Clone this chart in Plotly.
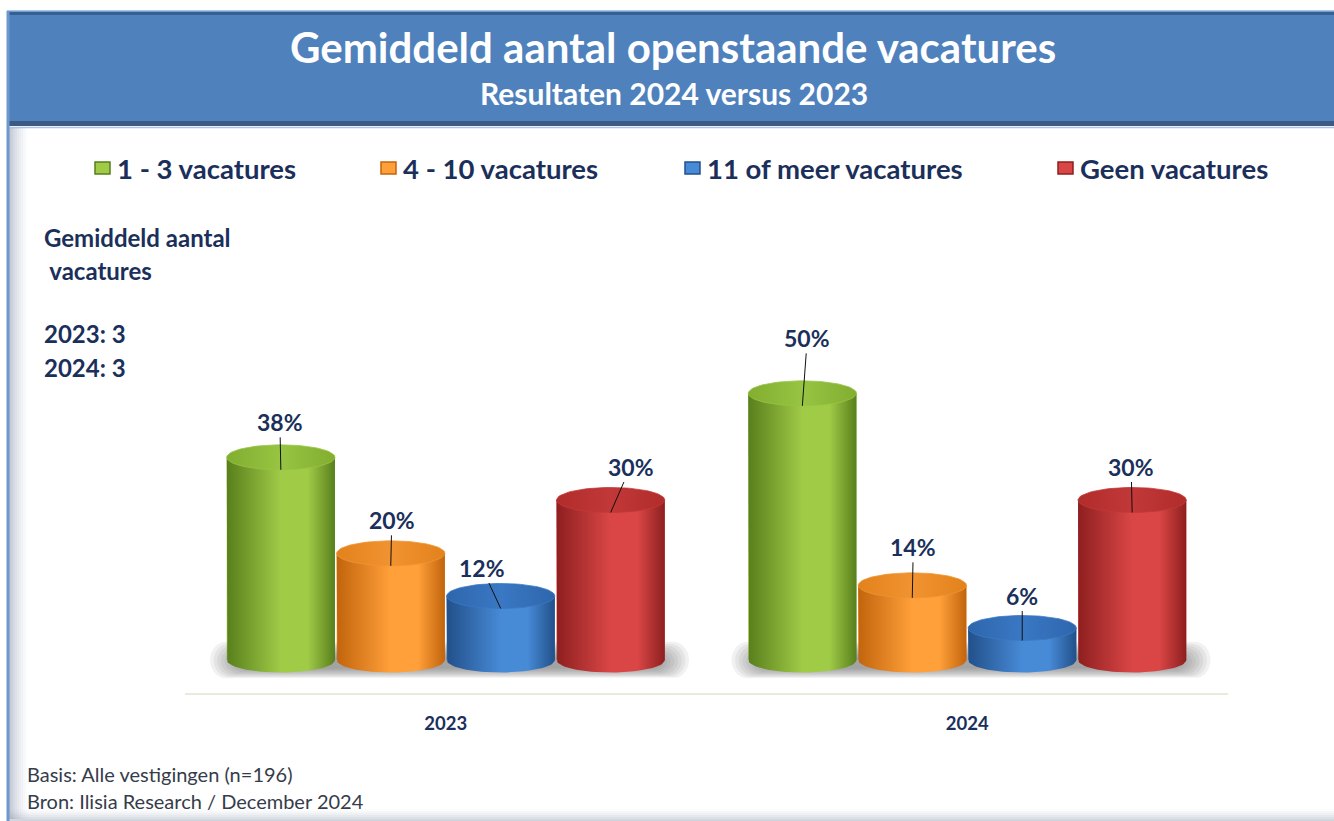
import numpy as np
import plotly.graph_objects as go

# ---------------- data ----------------
years = ["2023", "2024"]
series_names = ["1 - 3 vacatures", "4 - 10 vacatures", "11 of meer vacatures", "Geen vacatures"]
vals_1_3 = [38, 50]
vals_4_10 = [20, 14]
vals_11_plus = [12, 6]
vals_geen = [30, 30]
series_values = [vals_1_3, vals_4_10, vals_11_plus, vals_geen]
avg_label = "Gemiddeld aantal"
avg_label2 = " vacatures"
avg_years = ["2023", "2024"]
avg_values = [3, 3]
title = "Gemiddeld aantal openstaande vacatures"
subtitle = "Resultaten 2024 versus 2023"
footnotes = ["Basis: Alle vestigingen (n=196)", "Bron: Ilisia Research / December 2024"]

# ---------------- styles ----------------
FONT = "Lato"
NAVY = "#1B2F5B"
body_edge = ["#587F1C", "#C2640C", "#22508A", "#8E1F1F"]
body_mid = ["#9FCB47", "#FFA03A", "#478AD6", "#DA4646"]
top_edge = ["#82AE31", "#E2821C", "#2E66AC", "#B12C2C"]
top_mid = ["#98C443", "#F19331", "#3A78C4", "#C23838"]
legend_x = [95, 381, 685, 1058]      # pixel x of legend squares
legend_tx = [118, 404, 708, 1081]    # pixel x of legend texts
# label offsets (px) from the leader-line end point to the label centre
label_dx = [[-1, 5], [1, 1], [-19, 0], [20, -1]]
label_dy = [[-48, -68], [-46, -51], [-41, -45], [-46, -46]]

W, H = 1334, 821
L, R, T, B = 185, 1228, 140, 693
PX_PER_UNIT = 16 / 3
y0 = -(B - 660) / PX_PER_UNIT
y1 = y0 + (B - T) / PX_PER_UNIT

slot = 0.2108
bw = 0.2075
hw = bw / 2
ry = 12.5 / PX_PER_UNIT


def pxx(x):
    return (x - L) / (R - L)


def pxy(y):
    return (B - y) / (B - T)


fig = go.Figure()

# real bars
for i, name in enumerate(series_names):
    xs = [g + (i - 1.5) * slot for g in range(len(years))]
    fig.add_trace(go.Bar(
        x=xs, y=series_values[i], width=bw, name=name,
        marker=dict(color=body_mid[i], line=dict(width=0)),
        showlegend=False, hovertemplate=name + ": %{y}%<extra></extra>",
    ))

# soft floor shadows (stacked translucent rounded layers)
t_ell = np.linspace(0, 2 * np.pi, 60)
for g in range(len(years)):
    xa0 = g + (210 - 445.75) / 521.5
    xb0 = g + (689 - 445.75) / 521.5
    for k in range(9):
        xa = xa0 + k * 0.007
        xb = xb0 - k * 0.007
        top = 3.4 - k * 0.35
        bot = -3.4 + k * 0.22
        rx = 0.03
        rr = (top - bot) / 2
        cx1, cx2, cy = xa + rx, xb - rx, (top + bot) / 2
        xs_, ys_ = [], []
        for tt in np.linspace(np.pi / 2, 3 * np.pi / 2, 15):
            xs_.append(cx1 + rx * np.cos(tt)); ys_.append(cy + rr * np.sin(tt))
        for tt in np.linspace(-np.pi / 2, np.pi / 2, 15):
            xs_.append(cx2 + rx * np.cos(tt)); ys_.append(cy + rr * np.sin(tt))
        xs_.append(xs_[0]); ys_.append(ys_[0])
        fig.add_trace(go.Scatter(
            x=xs_, y=ys_, mode="lines", line=dict(width=0), fill="toself",
            fillcolor="rgba(95,95,95,0.085)", hoverinfo="skip", showlegend=False,
        ))

# cylinders (body + top cap)
t_half = np.linspace(0, np.pi, 40)
t_full = np.linspace(0, 2 * np.pi, 80)
for i in range(len(series_names)):
    for g in range(len(years)):
        v = series_values[i][g]
        c = g + (i - 1.5) * slot
        bx = [c - hw, c - hw] + list(c - hw * np.cos(t_half)) + [c + hw, c - hw]
        by = [v, 0] + list(-ry * np.sin(t_half)) + [v, v]
        fig.add_trace(go.Scatter(
            x=bx, y=by, mode="lines", line=dict(width=0), fill="toself",
            fillgradient=dict(type="horizontal",
                              colorscale=[[0, body_edge[i]], [0.5, body_mid[i]],
                                          [0.75, body_mid[i]], [1, body_edge[i]]]),
            hoverinfo="skip", showlegend=False,
        ))
        tx = list(c + hw * np.cos(t_full))
        ty = list(v + ry * np.sin(t_full))
        fig.add_trace(go.Scatter(
            x=tx, y=ty, mode="lines", line=dict(width=0.8, color=top_mid[i]), fill="toself",
            fillgradient=dict(type="horizontal",
                              colorscale=[[0, top_edge[i]], [0.5, top_mid[i]], [1, top_edge[i]]]),
            hoverinfo="skip", showlegend=False,
        ))

annotations = []
# data labels with leader lines
for i in range(len(series_names)):
    for g in range(len(years)):
        v = series_values[i][g]
        c = g + (i - 1.5) * slot
        annotations.append(dict(
            x=c, y=v - ry, xref="x", yref="y", text=f"<b>{v}%</b>",
            showarrow=True, arrowhead=0, arrowwidth=1, arrowcolor="#111111",
            ax=label_dx[i][g], ay=label_dy[i][g], standoff=0,
            font=dict(family=FONT, size=23, color=NAVY),
        ))

# title
annotations.append(dict(x=pxx(673), y=pxy(47), xref="paper", yref="paper", text=f"<b>{title}</b>",
                        showarrow=False, font=dict(family=FONT, size=42, color="white"),
                        xanchor="center", yanchor="middle"))
annotations.append(dict(x=pxx(674), y=pxy(93), xref="paper", yref="paper", text=f"<b>{subtitle}</b>",
                        showarrow=False, font=dict(family=FONT, size=30, color="white"),
                        xanchor="center", yanchor="middle"))

# legend
shapes = []
for i, name in enumerate(series_names):
    x0 = legend_x[i]
    shapes.append(dict(type="rect", xref="paper", yref="paper",
                       x0=pxx(x0), x1=pxx(x0 + 15), y0=pxy(174), y1=pxy(162),
                       fillcolor=body_mid[i], line=dict(color=body_edge[i], width=1.5)))
    annotations.append(dict(x=pxx(legend_tx[i] - 3), y=pxy(168), xref="paper", yref="paper",
                            text=f"<b>{name}</b>",
                            showarrow=False, font=dict(family=FONT, size=27.5, color=NAVY),
                            xanchor="left", yanchor="middle"))

# left info block
left_lines = [(avg_label, 238), (avg_label2, 270),
              (f"{avg_years[0]}: {avg_values[0]}", 333), (f"{avg_years[1]}: {avg_values[1]}", 367)]
for txt, yy in left_lines:
    annotations.append(dict(x=pxx(42), y=pxy(yy), xref="paper", yref="paper", text=f"<b>{txt}</b>",
                            showarrow=False, font=dict(family=FONT, size=24, color=NAVY),
                            xanchor="left", yanchor="middle"))

# footnotes
for txt, yy in zip(footnotes, [774, 801]):
    annotations.append(dict(x=pxx(25), y=pxy(yy), xref="paper", yref="paper", text=txt,
                            showarrow=False, font=dict(family=FONT, size=20, color="#363C4A"),
                            xanchor="left", yanchor="middle"))

# frame / header
shapes = [
    dict(type="rect", xref="paper", yref="paper", x0=pxx(7), x1=pxx(1340), y0=pxy(126), y1=pxy(11),
         fillcolor="#4F81BD", line=dict(width=0), layer="below"),
    dict(type="rect", xref="paper", yref="paper", x0=pxx(7), x1=pxx(1340), y0=pxy(15), y1=pxy(11),
         fillcolor="#365F96", line=dict(width=0), layer="below"),
    dict(type="rect", xref="paper", yref="paper", x0=pxx(7), x1=pxx(1340), y0=pxy(126), y1=pxy(121),
         fillcolor="#3C5A84", line=dict(width=0), layer="below"),
    dict(type="line", xref="paper", yref="paper", x0=pxx(7), x1=pxx(1340), y0=pxy(11), y1=pxy(11),
         line=dict(color="#8DB3E2", width=1.5), layer="below"),
    dict(type="line", xref="paper", yref="paper", x0=pxx(7), x1=pxx(1340), y0=pxy(127.5), y1=pxy(127.5),
         line=dict(color="#A9C4E8", width=1.5), layer="below"),
] + shapes
for k in range(10):
    a = 0.45 * (1 - k / 10) ** 1.6
    shapes.append(dict(type="rect", xref="paper", yref="paper", x0=pxx(9 + 2 * k), x1=pxx(11 + 2 * k),
                       y0=pxy(819), y1=pxy(128), fillcolor=f"rgba(120,135,160,{a:.3f})",
                       line=dict(width=0), layer="below"))
for k in range(6):
    a = 0.35 * (1 - k / 6) ** 1.5
    shapes.append(dict(type="rect", xref="paper", yref="paper", x0=pxx(9), x1=pxx(1340),
                       y0=pxy(821 - 2 * k), y1=pxy(819 - 2 * k), fillcolor=f"rgba(120,135,160,{a:.3f})",
                       line=dict(width=0), layer="below"))
shapes.append(dict(type="line", xref="paper", yref="paper", x0=pxx(8), x1=pxx(8), y0=pxy(821), y1=pxy(11),
                   line=dict(color="#6E97CC", width=3), layer="below"))

fig.update_layout(
    width=W, height=H,
    margin=dict(l=L, r=W - R, t=T, b=H - B, pad=0),
    paper_bgcolor="white", plot_bgcolor="rgba(0,0,0,0)",
    barmode="overlay",
    showlegend=False,
    xaxis=dict(range=[-0.5, 1.5], tickvals=list(range(len(years))), ticktext=[f"<b>{y}</b>" for y in years],
               tickfont=dict(family=FONT, size=18.5, color=NAVY), showgrid=False, zeroline=False,
               showline=True, linecolor="#EAEADC", linewidth=1.5, ticks="", ticklabelstandoff=13,
               fixedrange=True),
    yaxis=dict(range=[y0, y1], visible=False, showgrid=False, zeroline=False, fixedrange=True),
    annotations=annotations,
    shapes=shapes,
    font=dict(family=FONT, color=NAVY),
)

fig.write_html("out.html", config={"displayModeBar": False},
               post_script="document.body.style.margin='0px';document.body.style.overflow='hidden';")
